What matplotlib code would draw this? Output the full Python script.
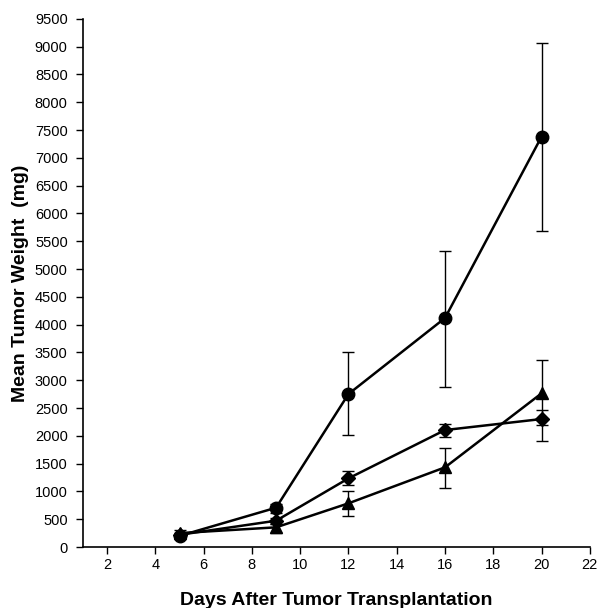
import matplotlib
matplotlib.use("Agg")
import matplotlib.pyplot as plt

days = [5, 9, 12, 16, 20]

circle_mean = [200, 707, 2752, 4119, 7381]
circle_lo = [180, 620, 2014, 2883, 5692]
circle_hi = [230, 780, 3500, 5329, 9065]

diamond_mean = [220, 473, 1235, 2104, 2302]
diamond_lo = [190, 420, 1115, 1984, 1912]
diamond_hi = [250, 530, 1372, 2218, 2460]

tri_mean = [250, 354, 786, 1433, 2764]
tri_lo = [200, 246, 557, 1056, 2200]
tri_hi = [310, 420, 1007, 1786, 3363]

xticks = [2, 4, 6, 8, 10, 12, 14, 16, 18, 20, 22]
yticks = list(range(0, 9501, 500))

plt.rcParams['font.family'] = ['Liberation Sans', 'DejaVu Sans']

fig = plt.figure(figsize=(5.97, 6.08), dpi=100)
ax = fig.add_axes([0.139, 0.1003, 0.849, 0.8687])

def plot_series(mean, lo, hi, marker, ms):
    yerr = [[m - l for m, l in zip(mean, lo)], [h - m for m, h in zip(mean, hi)]]
    ax.errorbar(days, mean, yerr=yerr, fmt='none', ecolor='black',
                elinewidth=1.0, capsize=4, capthick=1.0, zorder=2)
    ax.plot(days, mean, color='black', linewidth=1.8, marker=marker,
            markersize=ms, markerfacecolor='black', markeredgecolor='black', zorder=3)

plot_series(tri_mean, tri_lo, tri_hi, '^', 8)
plot_series(diamond_mean, diamond_lo, diamond_hi, 'D', 7)
plot_series(circle_mean, circle_lo, circle_hi, 'o', 9)

ax.set_xlim(1, 22)
ax.set_ylim(0, 9500)
ax.set_xticks(xticks)
ax.set_yticks(yticks)
ax.tick_params(axis='both', direction='out', length=5, width=1, labelsize=10.5, colors='black')
ax.tick_params(axis='x', pad=3)
ax.tick_params(axis='y', pad=6)
for s in ['top', 'right']:
    ax.spines[s].set_visible(False)
for s in ['left', 'bottom']:
    ax.spines[s].set_linewidth(1.2)

ax.set_xlabel('Days After Tumor Transplantation', fontsize=14, fontweight='bold', labelpad=14)
ax.set_ylabel('Mean Tumor Weight  (mg)', fontsize=14, fontweight='bold', labelpad=4)

fig.savefig('out.png', dpi=100)
